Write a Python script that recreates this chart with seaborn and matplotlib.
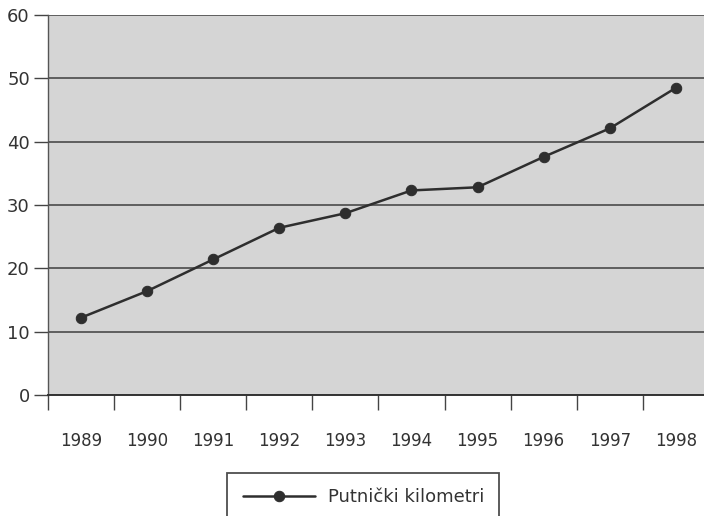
import matplotlib
matplotlib.use("Agg")
import matplotlib.pyplot as plt
import seaborn as sns
import pandas as pd
import numpy as np

# Data
years = ["1989", "1990", "1991", "1992", "1993", "1994", "1995", "1996", "1997", "1998"]
km = [12.2, 16.4, 21.4, 26.4, 28.7, 32.3, 32.8, 37.6, 42.1, 48.5]
series_name = "Putnički kilometri"

df = pd.DataFrame({"Godina": years, "Vrijednost": km})

sns.set_style("white")
plt.rcParams["font.family"] = ["DejaVu Sans"]

fig = plt.figure(figsize=(7.04, 5.16), dpi=100)
ax = fig.add_axes([0.068, 0.2345, 0.939, 0.7364])
ax.set_facecolor("#d5d5d5")

sns.lineplot(data=df, x="Godina", y="Vrijednost", ax=ax, color="#2e2e2e",
             marker="o", markersize=7.5, markeredgecolor="#2e2e2e", linewidth=1.8,
             label=series_name, legend=False)

# Axis limits and grid
ax.set_xlim(-0.5, len(years) - 0.5)
ax.set_ylim(0, 60)
ax.set_yticks(np.arange(0, 61, 10))
ax.yaxis.grid(True, color="#4a4a4a", linewidth=1.2)
ax.set_axisbelow(True)
ax.set_xlabel("")
ax.set_ylabel("")

for s in ["top", "right"]:
    ax.spines[s].set_visible(False)
ax.spines["left"].set_color("#555555")
ax.spines["bottom"].set_color("#333333")
ax.spines["left"].set_linewidth(1.0)
ax.spines["bottom"].set_linewidth(1.4)

# Ticks: labels centred on categories, marks at category boundaries
ax.set_xticks(range(len(years)))
ax.set_xticklabels(years)
ax.set_xticks(np.arange(-0.5, len(years), 1.0), minor=True)
ax.tick_params(axis="x", which="major", bottom=True, length=0, pad=27, labelsize=12, labelcolor="#333333")
ax.tick_params(axis="x", which="minor", bottom=True, length=11, width=1.0, color="#444444", direction="out")
ax.tick_params(axis="y", left=True, length=10, width=1.0, color="#444444", direction="out",
               labelsize=13, labelcolor="#333333", pad=3)

# Legend box sits at the bottom, partly cut off by the figure edge
handles, labels = ax.get_legend_handles_labels()
leg = fig.legend(handles, labels, loc="upper center", bbox_to_anchor=(0.516, 0.084),
                 borderaxespad=0, frameon=True, fancybox=False, fontsize=13, handlelength=4.0,
                 borderpad=0.85, handletextpad=0.7, edgecolor="#222222", labelcolor="#333333")
leg.get_frame().set_linewidth(1.3)

fig.savefig("out.png", dpi=100, facecolor="white")
